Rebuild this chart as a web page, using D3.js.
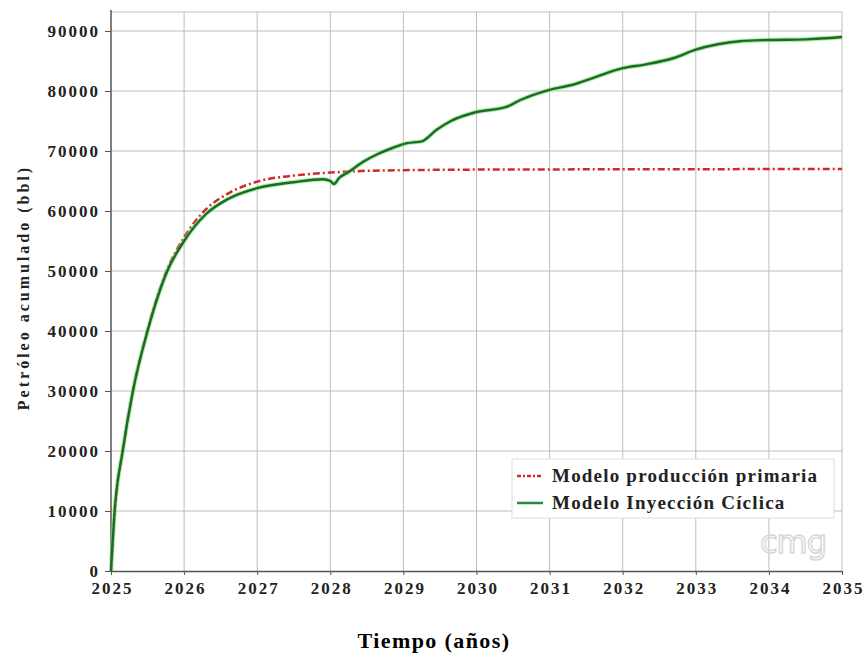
<!DOCTYPE html>
<html>
<head>
<meta charset="utf-8">
<script src="https://cdn.jsdelivr.net/npm/d3@7"></script>
<style>
  body { margin: 0; background: #fff; }
  svg text { font-family: "Liberation Serif", "Times New Roman", serif; }
</style>
</head>
<body>
<div id="chart"></div>
<script>
// DATA ###################################################
const xTicks = [2025, 2026, 2027, 2028, 2029, 2030, 2031, 2032, 2033, 2034, 2035];
const yTicks = [0, 10000, 20000, 30000, 40000, 50000, 60000, 70000, 80000, 90000];

// Modelo producción primaria
const primYears = [2025, 2025.05, 2025.16, 2025.3, 2025.5, 2025.77, 2026, 2026.3, 2026.6,
                   2027, 2027.5, 2028, 2028.5, 2029, 2030, 2032, 2035];
const primVals  = [0, 10000, 20000, 30000, 40200, 50300, 55600, 60300, 62900,
                   64900, 65900, 66400, 66700, 66800, 66900, 66950, 67000];

// Modelo Inyección Cíclica
const cicYears = [2025, 2025.05, 2025.16, 2025.3, 2025.5, 2025.77, 2026, 2026.3, 2026.6,
                  2027, 2027.5, 2027.9, 2028.0, 2028.05, 2028.12, 2028.25, 2028.45,
                  2028.65, 2028.85, 2029.05, 2029.25, 2029.45, 2029.65, 2030, 2030.4,
                  2030.6, 2031, 2031.3, 2031.6, 2032, 2032.3, 2032.7, 2033, 2033.3,
                  2033.6, 2034, 2034.5, 2035];
const cicVals  = [0, 10000, 20000, 30000, 40000, 50000, 55000, 59500, 62000,
                  63800, 64800, 65300, 65000, 64500, 65500, 66500, 68200,
                  69500, 70500, 71300, 71600, 73500, 75000, 76500, 77300,
                  78500, 80200, 81000, 82200, 83800, 84400, 85500, 86900, 87800,
                  88300, 88500, 88600, 89000];

// LAYOUT #################################################
const width = 867, height = 657;
const mLeft = 111, mRight = 842, mTop = 12, mBottom = 571;

const x = d3.scaleLinear().domain([2025, 2035]).range([mLeft, mRight]);
const y = d3.scaleLinear().domain([0, 90000]).range([mBottom, 31]);

const svg = d3.select("#chart").append("svg")
    .attr("width", width)
    .attr("height", height);

// GRID ===================================================
svg.append("g")
  .selectAll("line")
  .data(xTicks.slice(1))
  .join("line")
    .attr("x1", d => x(d)).attr("x2", d => x(d))
    .attr("y1", mTop).attr("y2", mBottom)
    .attr("stroke", "#bdbdbd").attr("stroke-width", 1);

svg.append("g")
  .selectAll("line")
  .data(yTicks.slice(1))
  .join("line")
    .attr("x1", mLeft).attr("x2", mRight)
    .attr("y1", d => y(d)).attr("y2", d => y(d))
    .attr("stroke", "#bdbdbd").attr("stroke-width", 1);

// top border
svg.append("line")
    .attr("x1", mLeft).attr("x2", mRight)
    .attr("y1", mTop).attr("y2", mTop)
    .attr("stroke", "#bdbdbd");

// AXES ===================================================
const xAxis = svg.append("g")
    .attr("transform", `translate(0,${mBottom})`)
    .call(d3.axisBottom(x).tickValues(xTicks).tickFormat(d3.format("d")).tickSize(4).tickSizeOuter(0));
const yAxis = svg.append("g")
    .attr("transform", `translate(${mLeft},0)`)
    .call(d3.axisLeft(y).tickValues(yTicks).tickFormat(d3.format("d")).tickSize(6).tickSizeOuter(0));

[xAxis, yAxis].forEach(g => {
  g.select(".domain").attr("stroke", "#555").attr("stroke-width", 1.5);
  g.selectAll(".tick line").attr("stroke", "#555");
  g.selectAll("text")
    .style("font-family", "'Liberation Serif', serif")
    .style("font-size", "17px")
    .style("font-weight", "bold")
    .style("letter-spacing", "2px")
    .attr("fill", "#222");
});
yAxis.select(".domain").attr("d", `M0,${mTop - 2}V${mBottom}`);
yAxis.selectAll(".tick text").attr("x", -11);
xAxis.selectAll(".tick text").attr("y", 11).attr("dx", "1px");

// CMG watermark ==========================================
svg.append("text")
    .attr("x", 793).attr("y", 553)
    .attr("text-anchor", "middle")
    .style("font-family", "'DejaVu Sans', sans-serif")
    .style("font-size", "32px")
    .style("letter-spacing", "-1px")
    .attr("fill", "none")
    .attr("stroke", "#d8d8d8")
    .attr("stroke-width", 1.5)
    .text("cmg");

// LINES ==================================================
const line = d3.line()
    .x(d => x(d[0]))
    .y(d => y(d[1]))
    .curve(d3.curveMonotoneX);

const prim = primYears.map((d, i) => [d, primVals[i]]);
const cic = cicYears.map((d, i) => [d, cicVals[i]]);

svg.append("path")
    .datum(prim)
    .attr("d", line)
    .attr("fill", "none")
    .attr("stroke", "#d42828")
    .attr("stroke-width", 2.5)
    .attr("stroke-dasharray", "7,3,2,3");

svg.append("path")
    .datum(cic)
    .attr("d", line)
    .attr("fill", "none")
    .attr("stroke", "#7be07b")
    .attr("stroke-width", 4.5)
    .attr("opacity", 0.6);

svg.append("path")
    .datum(cic)
    .attr("d", line)
    .attr("fill", "none")
    .attr("stroke", "#1c6b22")
    .attr("stroke-width", 2.4);

// LEGEND =================================================
const legend = svg.append("g");
legend.append("rect")
    .attr("x", 512).attr("y", 459)
    .attr("width", 322).attr("height", 59)
    .attr("fill", "#fff")
    .attr("stroke", "#ddd");

const legendItems = [
  { label: "Modelo producción primaria", color: "#d42828", dash: "4,2,2,2" },
  { label: "Modelo Inyección Cíclica", color: "#2a8a3a", dash: null }
];
legendItems.forEach((d, i) => {
  const ly = 476 + i * 27;
  legend.append("line")
      .attr("x1", 517).attr("x2", 543)
      .attr("y1", ly).attr("y2", ly)
      .attr("stroke", d.color)
      .attr("stroke-width", 2.5)
      .attr("stroke-dasharray", d.dash);
  legend.append("text")
      .attr("x", 552).attr("y", ly + 6)
      .style("font-size", "19px")
      .style("font-weight", "bold")
      .style("letter-spacing", "1.2px")
      .attr("fill", "#222")
      .text(d.label);
});

// AXIS TITLES ============================================
svg.append("text")
    .attr("text-anchor", "middle")
    .attr("transform", `translate(29,${(mTop + mBottom) / 2 - 4}) rotate(-90)`)
    .style("font-size", "16px")
    .style("font-weight", "bold")
    .style("letter-spacing", "3px")
    .attr("fill", "#222")
    .text("Petróleo acumulado (bbl)");

svg.append("text")
    .attr("text-anchor", "middle")
    .attr("x", 434).attr("y", 648)
    .style("font-size", "22px")
    .style("font-weight", "bold")
    .style("letter-spacing", "1.4px")
    .attr("fill", "#000")
    .text("Tiempo (años)");
</script>
</body>
</html>
